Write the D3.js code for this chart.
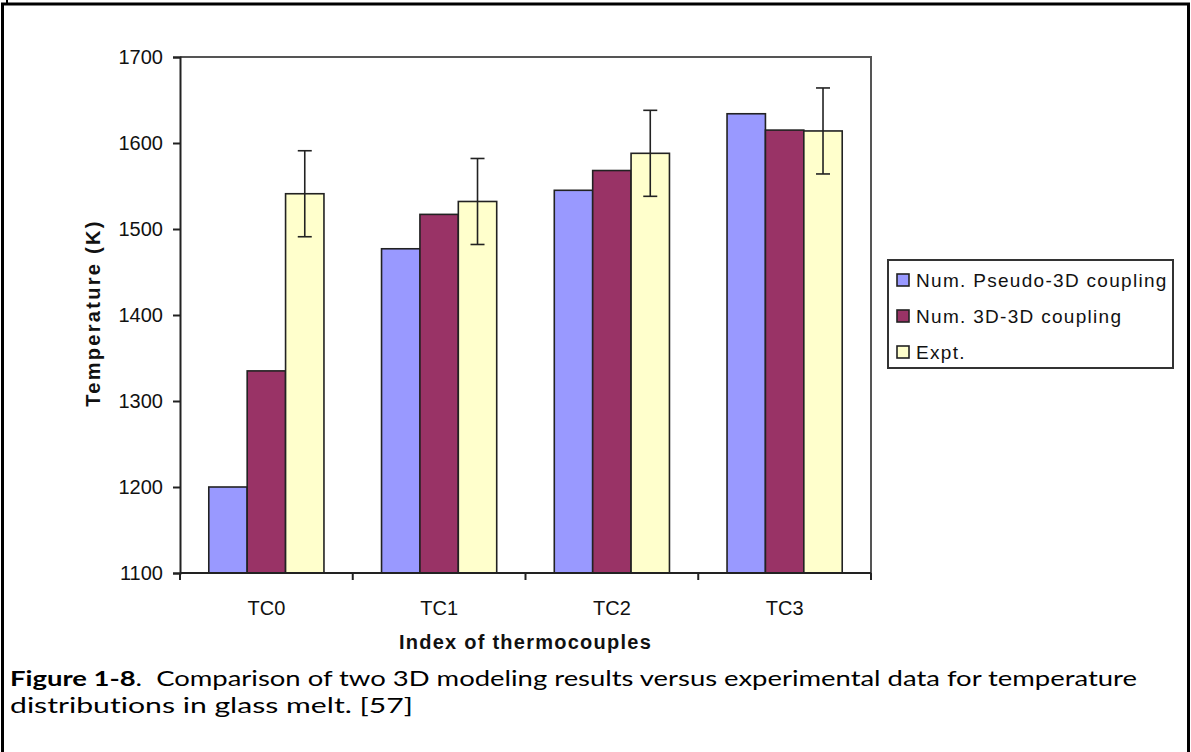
<!DOCTYPE html>
<html>
<head>
<meta charset="utf-8">
<script src="https://cdn.jsdelivr.net/npm/d3@7"></script>
<style>
  html, body { margin: 0; padding: 0; background: #fff; }
  svg { display: block; }
  text { font-variant-ligatures: none; }
</style>
</head>
<body>
<svg id="chart" width="1191" height="752"></svg>
<script>
// Thermocouple positions along the melt
const categories = ["TC0", "TC1", "TC2", "TC3"];
// Series names as shown in the legend
const seriesNames = ["Num. Pseudo-3D coupling", "Num. 3D-3D coupling", "Expt."];
// Temperatures (K)
const pseudo3D = [1200, 1477, 1545, 1634];
const coupled3D = [1335, 1517, 1568, 1615];
const expt = [1541, 1532, 1588, 1614];
// Measurement uncertainty on the experimental values (K)
const exptErr = [50, 50, 50, 50];
// Y axis tick values
const yTicks = [1100, 1200, 1300, 1400, 1500, 1600, 1700];

const seriesValues = [pseudo3D, coupled3D, expt];
const seriesColors = ["#9999FF", "#993366", "#FFFFCC"];

const svg = d3.select("#chart");

// Page frame around the figure
svg.append("rect")
  .attr("x", 2.5).attr("y", 4).attr("width", 1186).attr("height", 780)
  .attr("fill", "none").attr("stroke", "#000").attr("stroke-width", 3);
svg.append("line")
  .attr("x1", 7).attr("x2", 7).attr("y1", 0).attr("y2", 4)
  .attr("stroke", "#000").attr("stroke-width", 2);

const plot = { left: 180, right: 871, top: 57, bottom: 573 };

const y = d3.scaleLinear().domain([1100, 1700]).range([plot.bottom, plot.top]);
const x0 = d3.scaleBand().domain(categories).range([plot.left, plot.right]).padding(0);
const x1 = d3.scaleBand().domain(d3.range(seriesNames.length))
  .range([0, x0.bandwidth()]).paddingInner(0).paddingOuter(0.75);

// Plot area border (top and right)
svg.append("path")
  .attr("d", `M${plot.left},${plot.top}H${plot.right}V${plot.bottom}`)
  .attr("fill", "none").attr("stroke", "#555").attr("stroke-width", 2);

// Bars
const groups = svg.append("g").selectAll("g")
  .data(categories).join("g")
  .attr("transform", d => `translate(${x0(d)},0)`);

groups.selectAll("rect")
  .data((c, ci) => seriesValues.map((vals, si) => ({ si, v: vals[ci] })))
  .join("rect")
  .attr("x", d => x1(d.si))
  .attr("y", d => y(d.v))
  .attr("width", x1.bandwidth())
  .attr("height", d => y(1100) - y(d.v))
  .attr("fill", d => seriesColors[d.si])
  .attr("stroke", "#222")
  .attr("stroke-width", 1.6);

// Error bars on experimental values
const capHalf = 7;
groups.each(function (c, ci) {
  const g = d3.select(this);
  const cx = x1(2) + x1.bandwidth() / 2;
  const hi = y(expt[ci] + exptErr[ci]);
  const lo = y(expt[ci] - exptErr[ci]);
  g.append("line").attr("x1", cx).attr("x2", cx).attr("y1", hi).attr("y2", lo)
    .attr("stroke", "#222").attr("stroke-width", 1.6);
  g.append("line").attr("x1", cx - capHalf).attr("x2", cx + capHalf).attr("y1", hi).attr("y2", hi)
    .attr("stroke", "#222").attr("stroke-width", 1.6);
  g.append("line").attr("x1", cx - capHalf).attr("x2", cx + capHalf).attr("y1", lo).attr("y2", lo)
    .attr("stroke", "#222").attr("stroke-width", 1.6);
});

// Y axis
const yAxis = svg.append("g")
  .attr("transform", `translate(${plot.left},0)`)
  .call(d3.axisLeft(y).tickValues(yTicks).tickSize(7).tickPadding(10).tickFormat(d3.format("d")));
yAxis.select(".domain").attr("stroke", "#222").attr("stroke-width", 2);
yAxis.selectAll(".tick line").attr("stroke", "#222").attr("stroke-width", 2);
yAxis.selectAll(".tick text")
  .attr("font-family", "Liberation Sans, Arial, sans-serif")
  .attr("font-size", 20).attr("fill", "#111");

// X axis: ticks sit on category boundaries, labels at category centres
const xAxis = svg.append("g").attr("transform", `translate(0,${plot.bottom})`);
xAxis.append("line").attr("x1", plot.left).attr("x2", plot.right)
  .attr("stroke", "#222").attr("stroke-width", 2);
const boundaries = categories.map(c => x0(c)).concat([x0.range()[1]]);
xAxis.selectAll("line.tk").data(boundaries).join("line").attr("class", "tk")
  .attr("x1", d => d).attr("x2", d => d).attr("y1", 0).attr("y2", 7)
  .attr("stroke", "#222").attr("stroke-width", 2);
xAxis.selectAll("text").data(categories).join("text")
  .attr("x", d => x0(d) + x0.bandwidth() / 2).attr("y", 42)
  .attr("text-anchor", "middle")
  .attr("font-family", "Liberation Sans, Arial, sans-serif")
  .attr("font-size", 20).attr("fill", "#111")
  .text(d => d);

// Axis titles
svg.append("text")
  .attr("x", (plot.left + plot.right) / 2).attr("y", 649)
  .attr("text-anchor", "middle")
  .attr("font-family", "Liberation Sans, Arial, sans-serif")
  .attr("font-weight", "bold").attr("font-size", 20)
  .attr("letter-spacing", 1.25).attr("fill", "#111")
  .text("Index of thermocouples");
svg.append("text")
  .attr("transform", `translate(100,${(plot.top + plot.bottom) / 2 - 2}) rotate(-90)`)
  .attr("text-anchor", "middle")
  .attr("font-family", "Liberation Sans, Arial, sans-serif")
  .attr("font-weight", "bold").attr("font-size", 20)
  .attr("letter-spacing", 2.3).attr("fill", "#111")
  .text("Temperature (K)");

// Legend
const legend = svg.append("g");
legend.append("rect")
  .attr("x", 888).attr("y", 260).attr("width", 285).attr("height", 108)
  .attr("fill", "#fff").attr("stroke", "#333").attr("stroke-width", 2);
const rows = legend.selectAll("g.row").data(seriesNames).join("g").attr("class", "row")
  .attr("transform", (d, i) => `translate(0,${280 + i * 36})`);
rows.append("rect")
  .attr("x", 897).attr("y", -6).attr("width", 12).attr("height", 12)
  .attr("fill", (d, i) => seriesColors[i]).attr("stroke", "#222").attr("stroke-width", 1.6);
rows.append("text")
  .attr("x", 916).attr("y", 7)
  .attr("font-family", "Liberation Sans, Arial, sans-serif")
  .attr("font-size", 19).attr("fill", "#111")
  .attr("letter-spacing", 1.3)
  .text(d => d);

// Figure caption (two lines, fitted to the page column)
const capFont = "Lato, 'Open Sans', sans-serif";
const cap1 = svg.append("text")
  .attr("x", 10).attr("y", 686)
  .attr("font-family", capFont).attr("font-size", 21).attr("fill", "#000")
  .attr("textLength", 1127).attr("lengthAdjust", "spacingAndGlyphs");
cap1.append("tspan").attr("font-weight", "bold").text("Figure 1-8");
cap1.append("tspan").text(".\u00A0 Comparison of two 3D modeling results versus experimental data for temperature");
svg.append("text")
  .attr("x", 10).attr("y", 713)
  .attr("font-family", capFont).attr("font-size", 21).attr("fill", "#000")
  .attr("textLength", 403).attr("lengthAdjust", "spacingAndGlyphs")
  .text("distributions in glass melt. [57]");
</script>
</body>
</html>
